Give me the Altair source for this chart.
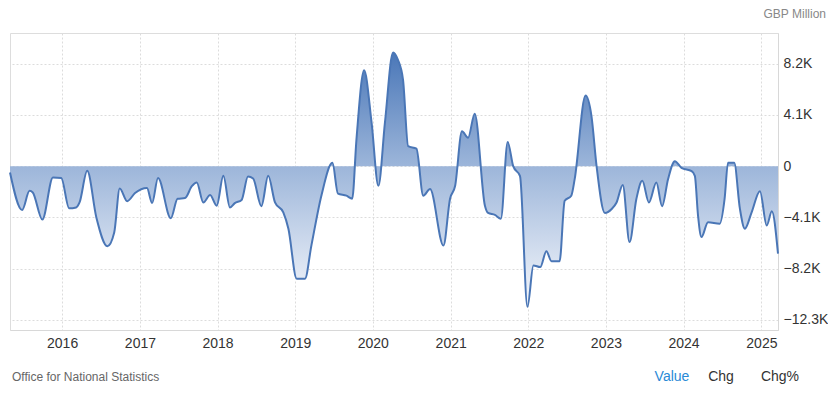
import altair as alt
import pandas as pd

# Monthly-ish trade balance, GBP million
dates = [
    "2015-05-01", "2015-06-27", "2015-08-01", "2015-08-16", "2015-09-30", "2015-11-19", "2015-12-28",
    "2016-02-03", "2016-03-07", "2016-03-23", "2016-04-28", "2016-06-10", "2016-08-01", "2016-09-02",
    "2016-09-28", "2016-11-02", "2016-12-09", "2017-02-03", "2017-02-27", "2017-03-27", "2017-05-26",
    "2017-06-27", "2017-08-01", "2017-09-02", "2017-09-25", "2017-10-26", "2017-11-27", "2017-12-28",
    "2018-01-28", "2018-02-28", "2018-03-23", "2018-04-24", "2018-05-24", "2018-06-17", "2018-07-26",
    "2018-08-27", "2018-09-28", "2018-11-06", "2018-11-30", "2019-01-08", "2019-02-16", "2019-03-18",
    "2019-05-04", "2019-06-25", "2019-07-21", "2019-08-30", "2019-09-26", "2019-10-16", "2019-11-21",
    "2019-12-26", "2020-01-27", "2020-02-27", "2020-04-05", "2020-04-28", "2020-05-22", "2020-06-15",
    "2020-07-24", "2020-08-25", "2020-09-26", "2020-11-28", "2020-12-29", "2021-01-22", "2021-02-23",
    "2021-03-24", "2021-04-24", "2021-06-11", "2021-06-26", "2021-07-28", "2021-08-25", "2021-09-26",
    "2021-10-22", "2021-11-23", "2021-12-28", "2022-01-25", "2022-02-26", "2022-03-27", "2022-04-20",
    "2022-05-28", "2022-06-21", "2022-07-22", "2022-08-07", "2022-09-27", "2022-10-25", "2022-11-18",
    "2022-12-27", "2023-01-28", "2023-02-20", "2023-03-21", "2023-04-22", "2023-05-24", "2023-06-21",
    "2023-07-22", "2023-08-26", "2023-09-22", "2023-10-20", "2023-11-21", "2023-12-22", "2024-02-08",
    "2024-02-23", "2024-03-09", "2024-03-25", "2024-04-25", "2024-06-19", "2024-07-12", "2024-07-28",
    "2024-08-26", "2024-09-22", "2024-10-15", "2024-11-16", "2024-12-25", "2025-01-26", "2025-02-19",
    "2025-03-20",
]
values = [
    -500, -3500, -1970, -2100, -4270, -900, -950,
    -3370, -3300, -2900, -370, -4100, -6400, -5300,
    -1780, -2800, -2150, -1750, -2950, -950, -4160,
    -2600, -2550, -1600, -1300, -2900, -2300, -3160,
    -770, -3300, -2950, -2700, -820, -980, -3200,
    -770, -2900, -3700, -5000, -9000, -9000, -6350,
    -2360, 270, -2200, -2360, -2600, 2150, 7670,
    3500, -1570, 3500, 9100, 8500, 6900, 1600,
    1400, -2360, -1830, -6350, -2600, -1570, 2800,
    2280, 4200, -3160, -3740, -3900, -4200, 1930,
    0, -800, -11250, -7940, -8070, -6800, -7600,
    -7600, -2760, -2360, -1040, 5650, 4000, 0,
    -3740, -3420, -2900, -1500, -6070, -2630, -1170,
    -2900, -1300, -3200, -1040, 400, -130, -400,
    -770, -3950, -5670, -4480, -4600, -2600, 270,
    270, -3420, -5000, -3690, -2000, -4750, -3600,
    -7000,
]

y_ticks = [-12300, -8200, -4100, 0, 4100, 8200]
unit_label = ["GBP Million"]
source_label = ["Office for National Statistics"]
tab_labels = ["Value", "Chg", "Chg%"]
tab_colors = ["#2a8ad6", "#333333", "#333333"]
tab_x = [662, 711, 770]

df = pd.DataFrame({"date": pd.to_datetime(dates), "value": values})

W, H = 768, 297

x_enc = alt.X(
    "date:T",
    scale=alt.Scale(domain=[dates[0], dates[-1]], nice=False),
    axis=alt.Axis(
        title=None, format="%Y", tickCount={"interval": "year", "step": 1},
        grid=True, gridColor="#dcdcdc", gridDash=[2, 2], gridWidth=1,
        domain=True, domainColor="#d8d8d8", ticks=False,
        labelFontSize=14, labelColor="#333333", labelPadding=6,
        labelFont="Liberation Sans", labelFlush=False,
    ),
)
y_enc = alt.Y(
    "value:Q",
    scale=alt.Scale(domain=[-13100, 10650], nice=False, zero=False),
    axis=alt.Axis(
        title=None, orient="right", values=y_ticks,
        labelExpr="datum.value == 0 ? '0' : format(datum.value / 1000, '.1f') + 'K'",
        grid=True, gridColor="#dcdcdc", gridDash=[2, 2], gridWidth=1,
        domain=True, domainColor="#d8d8d8", ticks=False,
        labelFontSize=14, labelColor="#333333", labelPadding=5,
        labelFont="Liberation Sans",
    ),
)

gradient = alt.Gradient(
    gradient="linear",
    stops=[
        alt.GradientStop(color="#f6f8fc", offset=0),
        alt.GradientStop(color="#9db6da", offset=0.55),
        alt.GradientStop(color="#4a77b8", offset=1),
    ],
    x1=1, x2=1, y1=1, y2=0,
)

area = alt.Chart(df).mark_area(interpolate="monotone", color=gradient, opacity=1).encode(
    x=x_enc, y=y_enc, y2=alt.datum(0)
)
line = alt.Chart(df).mark_line(interpolate="monotone", color="#4a76b6", strokeWidth=2).encode(
    x="date:T", y="value:Q"
)

unit = alt.Chart(pd.DataFrame({"t": unit_label})).mark_text(
    align="right", baseline="middle", fontSize=12, color="#888888", font="Liberation Sans"
).encode(x=alt.value(816), y=alt.value(-19), text="t:N")

source = alt.Chart(pd.DataFrame({"t": source_label})).mark_text(
    align="left", baseline="middle", fontSize=12, color="#666666", font="Liberation Sans"
).encode(x=alt.value(2), y=alt.value(344), text="t:N")

tabs = alt.Chart(pd.DataFrame({"t": tab_labels, "c": tab_colors, "px": tab_x})).mark_text(
    align="center", baseline="middle", fontSize=14, font="Liberation Sans"
).encode(
    x=alt.X("px:Q", scale=None),
    y=alt.value(344),
    text="t:N",
    color=alt.Color("c:N", scale=None),
)

chart = alt.layer(area, line, unit, source, tabs).properties(
    width=W, height=H,
    autosize=alt.AutoSizeParams(type="none"),
    padding={"left": 2, "top": 25, "right": 50, "bottom": 55},
).configure_view(stroke="#e4e4e4", strokeWidth=1).configure(background="white")

chart.save("out.html", embed_options={"renderer": "svg", "actions": False})
